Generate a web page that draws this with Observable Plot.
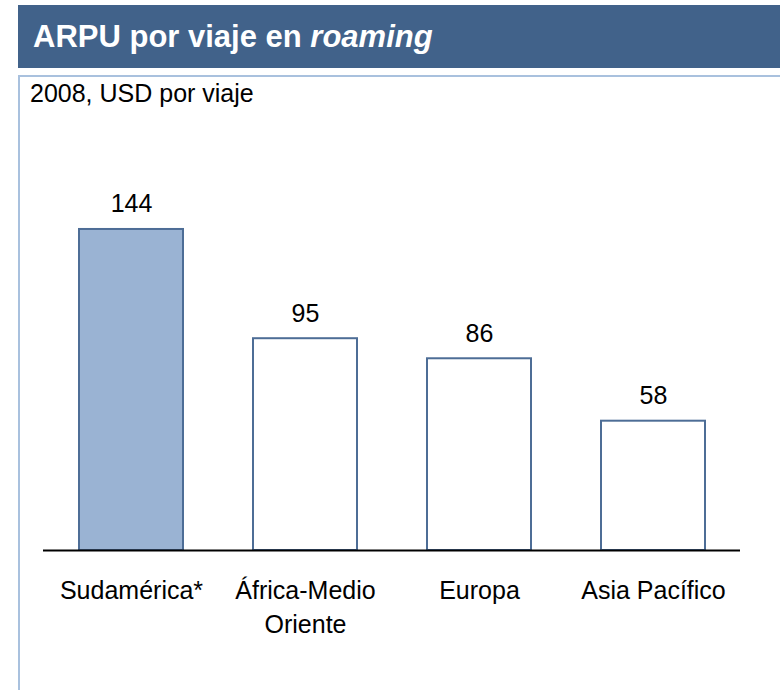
<!DOCTYPE html>
<html>
<head>
<meta charset="utf-8">
<script src="https://cdn.jsdelivr.net/npm/d3@7"></script>
<script src="https://cdn.jsdelivr.net/npm/@observablehq/plot@0.6"></script>
<style>
  html, body { margin: 0; padding: 0; background: #fff; width: 780px; height: 690px; overflow: hidden; }
  body { font-family: Arial, "Liberation Sans", sans-serif; position: relative; }
  #titlebar { position: absolute; left: 18px; top: 5px; width: 780px; height: 63px; background: #41628a; }
  #title { position: absolute; left: 33px; top: 22px; font-size: 31px; line-height: 30px; font-weight: bold; color: #fff; white-space: nowrap; }
  #panel { position: absolute; left: 18px; top: 75px; width: 800px; height: 700px; border: 2px solid #a9c1de; box-sizing: border-box; }
  #subtitle { position: absolute; left: 30px; top: 81px; font-size: 25px; line-height: 24px; color: #000; white-space: nowrap; }
  #chart { position: absolute; left: 0; top: 130px; }
</style>
</head>
<body>
<div id="titlebar"></div>
<div id="title">ARPU por viaje en <i>roaming</i></div>
<div id="panel"></div>
<div id="subtitle">2008, USD por viaje</div>
<div id="chart"></div>
<script>
const categories = ["Sudamérica*", "África-Medio Oriente", "Europa", "Asia Pacífico"];
const tickLabels = ["Sudamérica*", "África-Medio\nOriente", "Europa", "Asia Pacífico"];
const values = [144, 95, 86, 58];
const highlighted = [true, false, false, false];

const data = categories.map((c, i) => ({category: c, value: values[i], hi: highlighted[i]}));
const labelOf = new Map(categories.map((c, i) => [c, tickLabels[i]]));

const chart = Plot.plot({
  width: 780,
  height: 560,
  marginLeft: 43,
  marginRight: 40,
  marginTop: 85.6,
  marginBottom: 140,
  style: {fontFamily: "Arial, 'Liberation Sans', sans-serif", background: "transparent", overflow: "visible"},
  x: {domain: categories, paddingInner: 0.403, paddingOuter: 0.2015, align: 0.5},
  y: {domain: [0, 150], axis: null},
  marks: [
    Plot.barY(data, {x: "category", y: "value", fill: d => d.hi ? "#9ab3d3" : "#ffffff", stroke: "#4d6d96", strokeWidth: 2}),
    Plot.ruleY([0], {stroke: "#000", strokeWidth: 2}),
    Plot.text(data, {x: "category", y: "value", text: d => String(d.value), lineAnchor: "bottom", dy: -17, fontSize: 25, fill: "#000"}),
    Plot.axisX({tickSize: 0, tickPadding: 24, fontSize: 25, lineHeight: 1.36, tickFormat: d => labelOf.get(d), label: null, color: "#000"})
  ]
});
document.getElementById("chart").appendChild(chart);
</script>
</body>
</html>
